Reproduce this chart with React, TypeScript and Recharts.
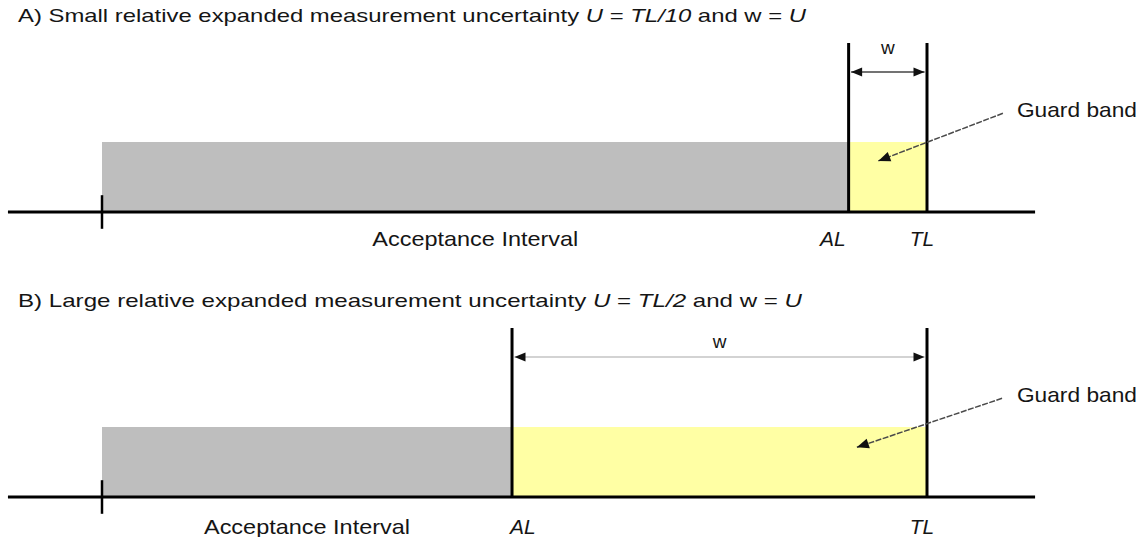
import { ComposedChart, XAxis, YAxis, ReferenceArea, ReferenceLine, Scatter } from 'recharts'

const FONT = "'Liberation Sans', Arial, Helvetica, sans-serif"
const INK = '#151515'

// x scale shared by both panels: start of acceptance interval = 0, tolerance limit TL = 10
const START = 0
const TL = 10
const AL_VALUES = [9.05, 4.97] // acceptance limit in panel A / B
const BAND_TOP = 1
const AXIS_END = [-1.14, 11.31]

type Part = [string, boolean] // text, italic
const TITLES: Part[][] = [
  [['A) Small relative expanded measurement uncertainty ', false], ['U', true], [' = ', false], ['TL/10', true], [' and w = ', false], ['U', true]],
  [['B) Large relative expanded measurement uncertainty ', false], ['U', true], [' = ', false], ['TL/2', true], [' and w = ', false], ['U', true]],
]
const AXIS_LABELS = ['Acceptance Interval', 'AL', 'TL']
const GUARD_LABEL = 'Guard band'
const WIDTH_LABEL = 'w'

// layout (data units; 82.5px per x unit, 70px per y unit)
const X_DOMAIN: [number, number] = [-102 / 82.5, 1039 / 82.5]
const PANELS = [
  { height: 270, y: [-58 / 70, 212 / 70] as [number, number], titleLen: 788, alDx: -0.19, labelY: -0.37, wY: 2.36, wStroke: '#444', from: [10.92, 1.41], to: [9.41, 0.73] },
  { height: 267, y: [-40 / 70, 227 / 70] as [number, number], titleLen: 784, alDx: 0.13, labelY: -0.41, wY: 2.23, wStroke: '#c4c4c4', from: [10.91, 1.41], to: [9.15, 0.71] },
]
const LINE_TOP = 2.414
const ARROW_Y = 2.0

type Lbl = { x: number; y: number; parts: Part[]; size: number; anchor: 'start' | 'middle'; len?: number }

function LabelShape(props: any) {
  const { cx, cy, payload } = props
  const p = payload as Lbl
  return (
    <text
      x={cx} y={cy} textAnchor={p.anchor} dominantBaseline="central"
      fontSize={p.size} fontFamily={FONT} fill={INK}
      textLength={p.len} lengthAdjust={p.len ? 'spacingAndGlyphs' : undefined}
      style={{ whiteSpace: 'pre' }}
    >
      {p.parts.map(([t, it], i) => <tspan key={i} fontStyle={it ? 'italic' : 'normal'}>{t}</tspan>)}
    </text>
  )
}

// triangle with tip at (x,y), pointing away from (fx,fy)
function head(x: number, y: number, fx: number, fy: number, len = 11, half = 4.5) {
  const dx = x - fx, dy = y - fy, d = Math.hypot(dx, dy) || 1
  const ux = dx / d, uy = dy / d
  const bx = x - ux * len, by = y - uy * len
  return `M${x},${y} L${bx - uy * half},${by + ux * half} L${bx + uy * half},${by - ux * half} Z`
}

const doubleArrow = (stroke: string) => (p: any) => {
  const { x1, y1, x2, y2 } = p
  return (
    <g>
      <line x1={x1} y1={y1} x2={x2} y2={y2} stroke={stroke} strokeWidth={1.6} />
      <path d={head(x1, y1, x2, y2)} fill="#111" />
      <path d={head(x2, y2, x1, y1)} fill="#111" />
    </g>
  )
}

const pointer = (p: any) => {
  const { x1, y1, x2, y2 } = p
  return (
    <g>
      <line x1={x1} y1={y1} x2={x2} y2={y2} stroke="#4a4a4a" strokeWidth={1.5} strokeDasharray="6 1.5" />
      <path d={head(x2, y2, x1, y1, 12, 5)} fill="#111" />
    </g>
  )
}

function Panel({ idx }: { idx: number }) {
  const al = AL_VALUES[idx]
  const cfg = PANELS[idx]
  const labels: Lbl[] = [
    { x: -1.018, y: 2.814, parts: TITLES[idx], size: 19, anchor: 'start', len: cfg.titleLen },
    { x: (START + al) / 2, y: cfg.labelY, parts: [[AXIS_LABELS[0], false]], size: 21, anchor: 'middle', len: 206 },
    { x: al + cfg.alDx, y: cfg.labelY, parts: [[AXIS_LABELS[1], true]], size: 21, anchor: 'middle' },
    { x: TL - 0.06, y: cfg.labelY, parts: [[AXIS_LABELS[2], true]], size: 21, anchor: 'middle' },
    { x: (al + TL) / 2, y: cfg.wY, parts: [[WIDTH_LABEL, false]], size: 19, anchor: 'middle' },
    { x: 11.09, y: 1.47, parts: [[GUARD_LABEL, false]], size: 21, anchor: 'start', len: 120 },
  ]
  return (
    <ComposedChart width={1141} height={cfg.height} margin={{ top: 0, right: 0, bottom: 0, left: 0 }}>
      <XAxis type="number" dataKey="x" domain={X_DOMAIN} allowDataOverflow hide />
      <YAxis type="number" dataKey="y" domain={cfg.y} allowDataOverflow hide />
      <ReferenceArea x1={START} x2={al} y1={0} y2={BAND_TOP} fill="#bebebe" fillOpacity={1} stroke="none" />
      <ReferenceArea x1={al} x2={TL} y1={0} y2={BAND_TOP} fill="#ffffa4" fillOpacity={1} stroke="none" />
      <ReferenceLine segment={[{ x: AXIS_END[0], y: 0 }, { x: AXIS_END[1], y: 0 }]} stroke="#000" strokeWidth={3} />
      <ReferenceLine segment={[{ x: START, y: -0.24 }, { x: START, y: 0.24 }]} stroke="#000" strokeWidth={2.5} />
      <ReferenceLine segment={[{ x: al, y: 0 }, { x: al, y: LINE_TOP }]} stroke="#000" strokeWidth={3} />
      <ReferenceLine segment={[{ x: TL, y: 0 }, { x: TL, y: LINE_TOP }]} stroke="#000" strokeWidth={3} />
      <ReferenceLine segment={[{ x: al + 0.03, y: ARROW_Y }, { x: TL - 0.03, y: ARROW_Y }]} shape={doubleArrow(cfg.wStroke)} />
      <ReferenceLine segment={[{ x: cfg.from[0], y: cfg.from[1] }, { x: cfg.to[0], y: cfg.to[1] }]} shape={pointer} />
      <Scatter data={labels} dataKey="y" shape={LabelShape} isAnimationActive={false} />
    </ComposedChart>
  )
}

export default function App() {
  return (
    <div style={{ position: 'absolute', left: 0, top: 0, width: 1141, height: 537, background: '#fff', fontFamily: FONT }}>
      <Panel idx={0} />
      <Panel idx={1} />
    </div>
  )
}
